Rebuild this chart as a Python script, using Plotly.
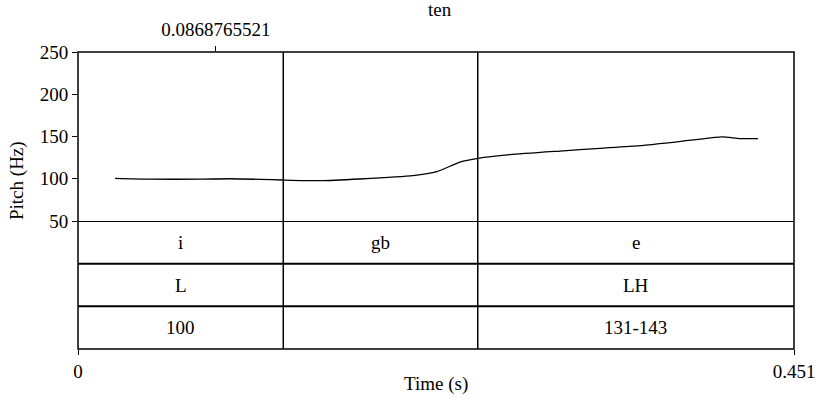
import plotly.graph_objects as go

# ---- data ----
pitch_time = [0.0233, 0.0454, 0.0768, 0.0957, 0.1146, 0.1291, 0.1524, 0.1776, 0.2110,
              0.2261, 0.2406, 0.2520, 0.2721, 0.3036, 0.3288, 0.3540, 0.3874, 0.4056,
              0.4170, 0.4283]
pitch_hz = [100.5, 99.5, 99.5, 100.0, 99.3, 98.5, 97.7, 99.7, 103.6,
            108.4, 119.8, 124.2, 128.5, 132.8, 136.0, 139.2, 145.9, 149.5,
            147.5, 147.5]
boundaries = [0.0, 0.1293, 0.2518, 0.451]
tier1_labels = ["i", "gb", "e"]
tier2_labels = ["L", "", "LH"]
tier3_labels = ["100", "", "131-143"]
x_ticks = [0, 0.451]
x_tick_text = ["0", "0.451"]
top_tick = [0.0868765521]
top_tick_text = ["0.0868765521"]
y_ticks = [50, 100, 150, 200, 250]
title = "ten"

FONT = "Liberation Serif"
FS = 19

n_tiers = 3
pitch_frac = 169 / 297
tier_frac = 1 - pitch_frac

fig = go.Figure()
fig.add_trace(go.Scatter(x=pitch_time, y=pitch_hz, mode="lines", line_shape="spline",
                         line=dict(color="black", width=1.3, smoothing=0.6), xaxis="x", yaxis="y",
                         showlegend=False, hoverinfo="skip"))

shapes = []
shapes.append(dict(type="rect", xref="paper", yref="paper", x0=0, x1=1, y0=0, y1=1,
                   line=dict(color="black", width=1.5)))
for k in range(n_tiers):
    shapes.append(dict(type="line", xref="paper", yref="y2", x0=0, x1=1, y0=n_tiers - k, y1=n_tiers - k,
                       line=dict(color="black", width=2)))
for b in boundaries[1:-1]:
    shapes.append(dict(type="line", xref="x", yref="paper", x0=b, x1=b, y0=0, y1=1,
                       line=dict(color="black", width=1.5)))

tf = dict(family=FONT, size=FS, color="black")
annotations = []
for k, labels in enumerate([tier1_labels, tier2_labels, tier3_labels]):
    yc = n_tiers - k - 0.5
    for i, lab in enumerate(labels):
        if lab:
            annotations.append(dict(x=(boundaries[i] + boundaries[i + 1]) / 2, y=yc, xref="x", yref="y2",
                                    text=lab, showarrow=False, xanchor="center", yanchor="middle", font=tf))
annotations.append(dict(x=(17 - 78) / 716, y=(349 - 181) / 297, xref="paper", yref="paper",
                        text="Pitch (Hz)", textangle=-90, showarrow=False,
                        xanchor="center", yanchor="middle", font=tf))
annotations.append(dict(x=(436 - 78) / 716, y=(349 - 384) / 297, xref="paper", yref="paper", text="Time (s)",
                        showarrow=False, xanchor="center", yanchor="middle", font=tf))
annotations.append(dict(x=(440 - 78) / 716, y=(349 - 9) / 297, xref="paper", yref="paper", text=title,
                        showarrow=False, xanchor="center", yanchor="middle", font=tf))

fig.update_layout(
    width=816, height=402,
    margin=dict(l=78, r=22, t=52, b=53, autoexpand=False),
    paper_bgcolor="white", plot_bgcolor="white",
    font=tf,
    xaxis=dict(range=[0, 0.451], tickvals=x_ticks, ticktext=x_tick_text, ticks="outside",
               ticklen=5, tickcolor="black", showgrid=False, zeroline=False, anchor="y2",
               showline=False, tickfont=tf, automargin=False),
    xaxis2=dict(range=[0, 0.451], tickvals=top_tick, ticktext=top_tick_text, ticks="outside",
                ticklen=5, tickcolor="black", showgrid=False, zeroline=False, overlaying="x",
                side="top", anchor="y", showline=False, tickfont=tf, automargin=False,
                ticklabelstandoff=2),
    yaxis=dict(domain=[tier_frac, 1], range=[50, 250], tickvals=y_ticks, ticks="outside",
               ticklen=5, tickcolor="black", showgrid=False, zeroline=False, showline=False,
               tickfont=tf, automargin=False),
    yaxis2=dict(domain=[0, tier_frac], range=[0, n_tiers], showticklabels=False, ticks="",
                showgrid=False, zeroline=False, showline=False, automargin=False),
    shapes=shapes, annotations=annotations,
)
fig.add_trace(go.Scatter(x=[0], y=[50], xaxis="x2", yaxis="y", mode="markers",
                         marker=dict(opacity=0), showlegend=False, hoverinfo="skip"))
fig.add_trace(go.Scatter(x=[0], y=[0], xaxis="x", yaxis="y2", mode="markers",
                         marker=dict(opacity=0), showlegend=False, hoverinfo="skip"))
fig.write_html("out.html", config={"displayModeBar": False},
               post_script="document.body.style.margin='0';document.body.style.overflow='hidden';")
